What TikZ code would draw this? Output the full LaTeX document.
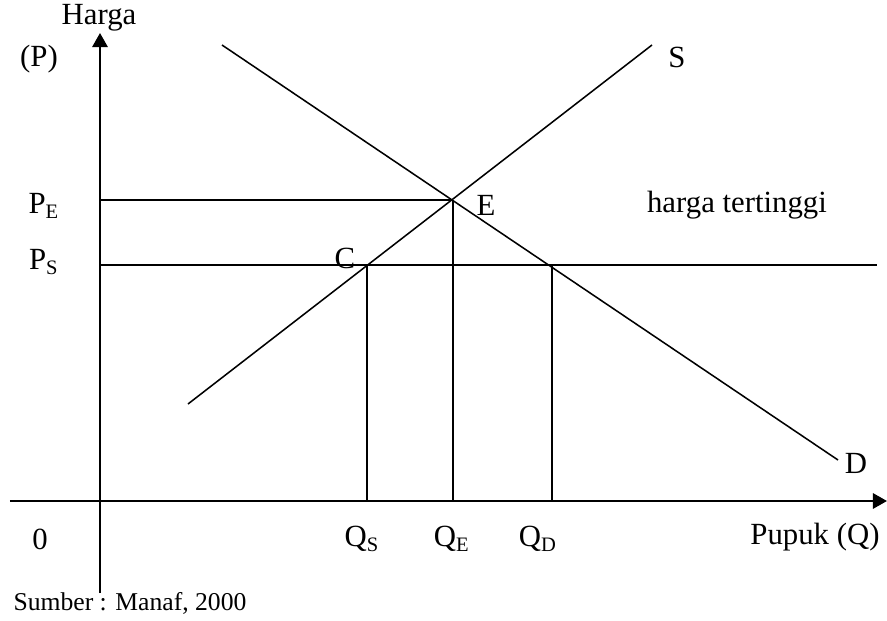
\documentclass[tikz,border=0pt]{standalone}
\usepackage{fontspec}
\setmainfont{Liberation Serif}
\usepackage{tikz}
\usetikzlibrary{arrows.meta}
\tikzset{
  axis line/.style={
    -{Triangle[length=5.5pt, width=6pt]},
    line width=0.8pt
  },
  curve line/.style={
    line width=0.6pt
  },
  guide line/.style={
    line width=0.6pt
  },
  lbl/.style={
    font=\fontsize{12}{14}\selectfont,
    inner sep=0pt
  },
  src lbl/.style={
    font=\fontsize{10}{12}\selectfont,
    inner sep=0pt
  }
}

\begin{document}
\begin{tikzpicture}[x=0.0137cm, y=-0.0137cm]

  %% ---- ukuran gambar (piksel) ----
  \useasboundingbox (0,0) rectangle (887,621);

  %% ---- titik-titik utama ----
  \coordinate (yb) at (100, 593);
  \coordinate (yt) at (100, 33);
  \coordinate (xl) at (10, 501);
  \coordinate (xr) at (887, 501);

  \coordinate (E)   at (453, 200);   % keseimbangan
  \coordinate (C)   at (367, 265);   % penawaran pada harga tertinggi
  \coordinate (Dps) at (552, 265);   % permintaan pada harga tertinggi

  \coordinate (PE)  at (100, 200);
  \coordinate (PS)  at (100, 265);
  \coordinate (PSr) at (877, 265);
  \coordinate (QS)  at (367, 501);
  \coordinate (QE)  at (453, 501);
  \coordinate (QD)  at (552, 501);

  % kurva S dan D
  \coordinate (S1) at (188, 404);
  \coordinate (S2) at (652, 45);
  \coordinate (D1) at (222, 45);
  \coordinate (D2) at (838, 460);

  %% ---- sumbu ----
  \draw[axis line] (yb) -- (yt);
  \draw[axis line] (xl) -- (xr);

  %% ---- kurva penawaran dan permintaan ----
  \draw[curve line] (S1) -- (S2);
  \draw[curve line] (D1) -- (D2);

  %% ---- garis bantu ----
  \draw[guide line] (PE) -- (E);
  \draw[guide line] (PS) -- (PSr);
  \draw[guide line] (C) -- (QS);
  \draw[guide line] (E) -- (QE);
  \draw[guide line] (Dps) -- (QD);

  %% ---- label ----
  \node[lbl] (harga) at (99, 18)  {Harga};
  \node[lbl] (p)     at (39, 59)  {(P)};
  \node[lbl] (pe)    at (44, 206) {P\textsubscript{E}};
  \node[lbl] (ps)    at (44, 262) {P\textsubscript{S}};
  \node[lbl] (e)     at (486, 205) {E};
  \node[lbl] (c)     at (345, 258) {C};
  \node[lbl] (s)     at (677, 57) {S};
  \node[lbl] (d)     at (856, 463) {D};
  \node[lbl] (ht)    at (737, 205) {harga tertinggi};

  \node[lbl] (nol)   at (40, 539)  {0};
  \node[lbl] (qs)    at (362, 539) {Q\textsubscript{S}};
  \node[lbl] (qe)    at (452, 539) {Q\textsubscript{E}};
  \node[lbl] (qd)    at (538, 539) {Q\textsubscript{D}};
  \node[lbl] (pupuk) at (815, 537) {Pupuk (Q)};

  \node[src lbl, anchor=west] (src) at (13, 603) {Sumber : Manaf, 2000};

\end{tikzpicture}
\end{document}
